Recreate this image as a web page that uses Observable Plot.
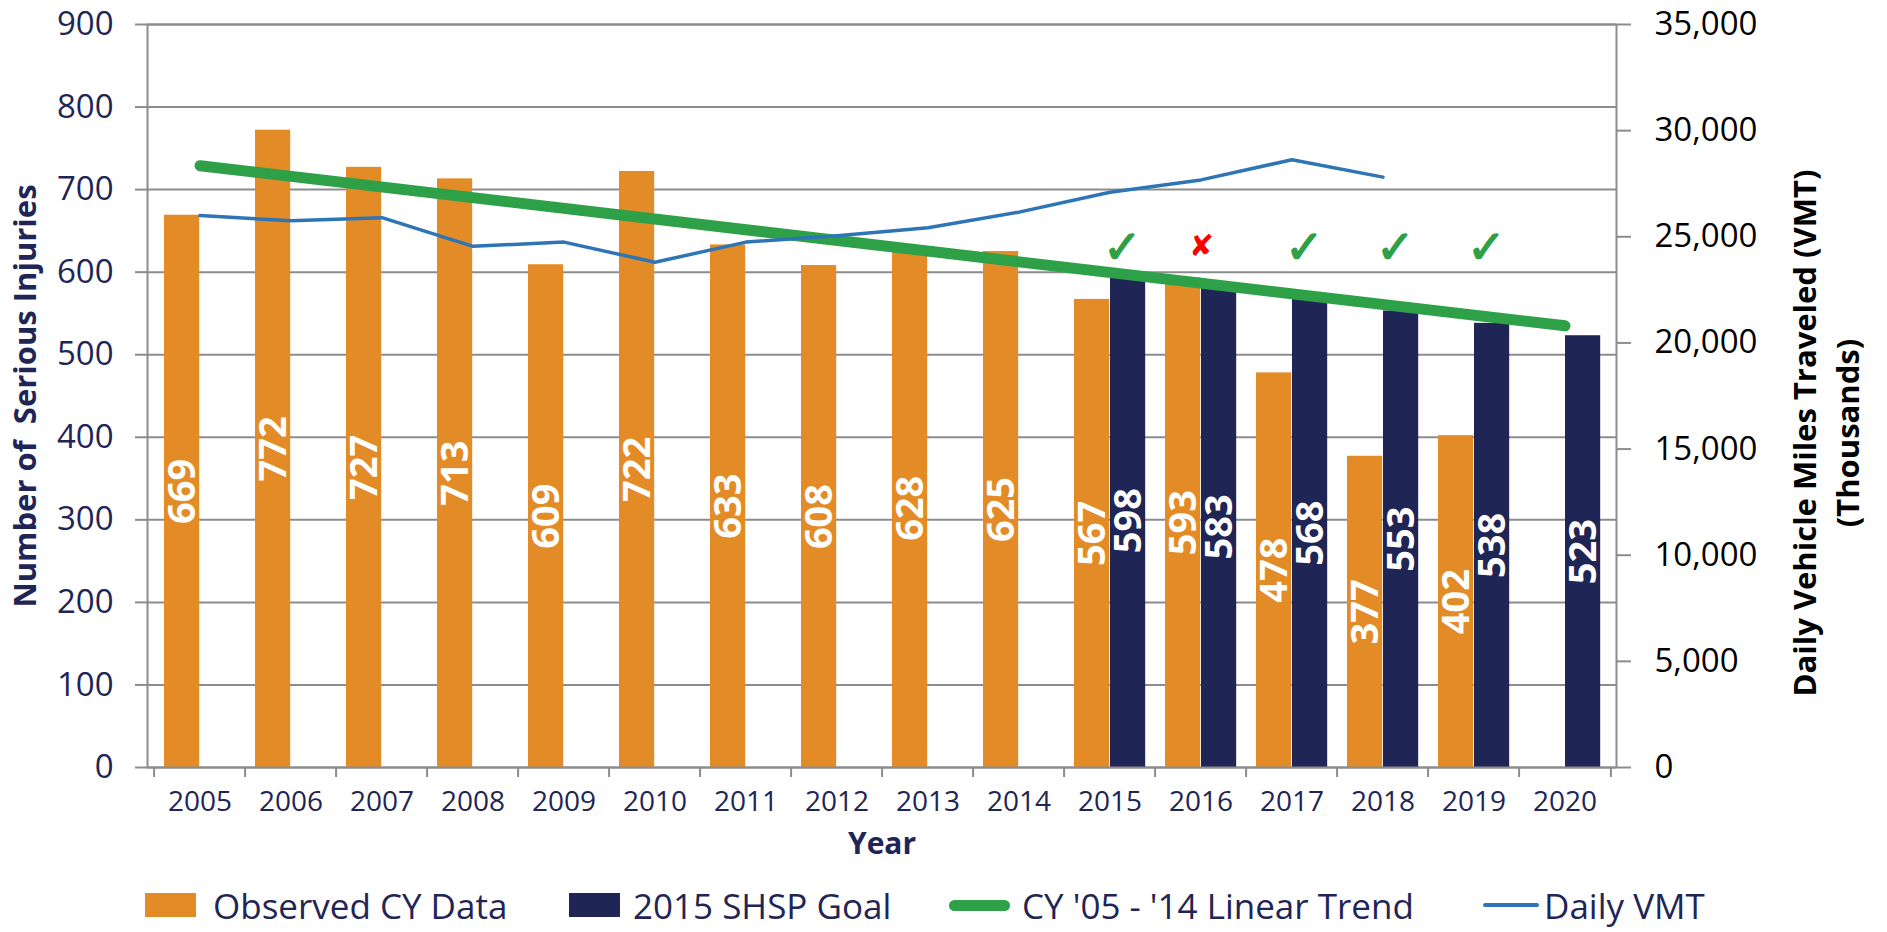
<!DOCTYPE html>
<html>
<head>
<meta charset="utf-8">
<script src="https://cdn.jsdelivr.net/npm/d3@7"></script>
<script src="https://cdn.jsdelivr.net/npm/@observablehq/plot@0.6"></script>
<style>
  body { margin: 0; background: #fff; font-family: "Open Sans", sans-serif; overflow: hidden; }
  #chart { width: 1887px; height: 880px; }
  #legend { position: relative; width: 1887px; height: 52px; }
  .item { position: absolute; top: 0; height: 50px; display: flex; align-items: center; }
  .sw { width: 51px; height: 24px; flex: none; }
  .ln { flex: none; border-radius: 6px; }
  .lbl { font-size: 35px; color: #1f2555; white-space: nowrap; line-height: 1; }
</style>
</head>
<body>
<div id="chart"></div>
<div id="legend"></div>
<script>
// ---- data ----
const years = ["2005","2006","2007","2008","2009","2010","2011","2012","2013","2014","2015","2016","2017","2018","2019","2020"];
const observedYears = ["2005","2006","2007","2008","2009","2010","2011","2012","2013","2014","2015","2016","2017","2018","2019"];
const observed = [669, 772, 727, 713, 609, 722, 633, 608, 628, 625, 567, 593, 478, 377, 402];
const goalYears = ["2015","2016","2017","2018","2019","2020"];
const goal = [598, 583, 568, 553, 538, 523];
const trendYears = ["2005","2020"];
const trend = [729, 535];
const vmtYears = ["2005","2006","2007","2008","2009","2010","2011","2012","2013","2014","2015","2016","2017","2018"];
const vmt = [26000, 25750, 25900, 24550, 24750, 23800, 24750, 25050, 25430, 26160, 27100, 27680, 28630, 27810];
const statusYears = ["2015","2016","2017","2018","2019"];
const status = ["met","missed","met","met","met"];
const leftTicks = [0,100,200,300,400,500,600,700,800,900];
const rightTicks = [0,5000,10000,15000,20000,25000,30000,35000];
const seriesNames = ["Observed CY Data","2015 SHSP Goal","CY '05 - '14 Linear Trend","Daily VMT"];

// ---- styling ----
const ORANGE = "#e38b26", NAVY = "#1f2555", GREEN = "#2ea048", BLUE = "#2e75b6", GRAY = "#8c8c8c", NAVYTXT = "#1f2555";
const W = 1887, H = 880, ML = 147, MR = 271, MT = 24, MB = 113;
const bw = (W - ML - MR) / years.length;
const rightMax = 35000, leftMax = 900;
const toLeft = v => v * leftMax / rightMax;

const obsData = observedYears.map((y, i) => ({year: y, value: observed[i]}));
const goalData = goalYears.map((y, i) => ({year: y, value: goal[i]}));
const trendData = trendYears.map((y, i) => ({year: y, value: trend[i]}));
const vmtData = vmtYears.map((y, i) => ({year: y, value: vmt[i]}));
const statusData = statusYears.map((y, i) => ({year: y, s: status[i]}));

const chart = Plot.plot({
  width: W, height: H,
  marginLeft: ML, marginRight: MR, marginTop: MT, marginBottom: MB,
  style: {fontFamily: "'Open Sans', sans-serif", background: "#fff"},
  x: {type: "band", domain: years, padding: 0, label: null},
  y: {domain: [0, leftMax], label: null},
  marks: [
    Plot.gridY(leftTicks, {stroke: GRAY, strokeOpacity: 1, strokeWidth: 2}),
    Plot.barY(obsData, {x: "year", y: "value", fill: ORANGE, insetLeft: 10, insetRight: bw - 46}),
    Plot.barY(goalData, {x: "year", y: "value", fill: NAVY, insetLeft: 46, insetRight: bw - 82}),
    Plot.frame({stroke: GRAY, strokeWidth: 2}),
    Plot.ruleX(years, {x: d => d, dx: -bw / 2, stroke: GRAY, strokeWidth: 2, insetTop: H - MT - MB, insetBottom: -10}),
    Plot.ruleX([years[years.length - 1]], {x: d => d, dx: bw / 2, stroke: GRAY, strokeWidth: 2, insetTop: H - MT - MB, insetBottom: -10}),
    Plot.text(obsData, {x: "year", y: d => d.value / 2, text: d => String(d.value), rotate: -90, dx: -17, fill: "white", fontSize: 38, fontWeight: "bold"}),
    Plot.text(goalData, {x: "year", y: d => d.value / 2, text: d => String(d.value), rotate: -90, dx: 19, fill: "white", fontSize: 38, fontWeight: "bold"}),
    Plot.line(trendData, {x: "year", y: "value", stroke: GREEN, strokeWidth: 11, strokeLinecap: "round"}),
    Plot.line(vmtData, {x: "year", y: d => toLeft(d.value), stroke: BLUE, strokeWidth: 3.5}),
    Plot.text(statusData.filter(d => d.s === "met"), {x: "year", frameAnchor: "top", dy: 206, dx: 12, text: () => "✓", fill: GREEN, fontSize: 46, fontWeight: "bold"}),
    Plot.text(statusData.filter(d => d.s === "missed"), {x: "year", frameAnchor: "top", dy: 210, dx: 0, text: () => "✘", fill: "#ff0000", fontSize: 30}),
    Plot.axisY(leftTicks, {anchor: "left", tickSize: 12, tickPadding: 22, fontSize: 33, stroke: GRAY, strokeWidth: 2, fill: NAVYTXT, label: null}),
    Plot.axisY(rightTicks.map(toLeft), {anchor: "right", tickSize: 14, tickPadding: 24, fontSize: 33, stroke: GRAY, strokeWidth: 2, fill: "#000",
      tickFormat: d => d3.format(",")(Math.round(d * rightMax / leftMax)), label: null}),
    Plot.axisX({tickSize: 0, tickPadding: 24, fontSize: 28, fill: NAVYTXT, label: null}),
    Plot.text(["Number of  Serious Injuries"], {text: d => d, frameAnchor: "left", textAnchor: "middle", dx: -121, dy: 0, rotate: -90, fontSize: 31, fontWeight: "bold", fill: NAVYTXT}),
    Plot.text(["Daily Vehicle Miles Traveled (VMT)"], {text: d => d, frameAnchor: "right", textAnchor: "middle", dx: 190, dy: 37, rotate: -90, fontSize: 31, fontWeight: "bold", fill: "#000"}),
    Plot.text(["(Thousands)"], {text: d => d, frameAnchor: "right", textAnchor: "middle", dx: 233, dy: 37, rotate: -90, fontSize: 31, fontWeight: "bold", fill: "#000"}),
    Plot.text(["Year"], {text: d => d, frameAnchor: "bottom", dy: 86, fontSize: 30, fontWeight: "bold", fill: NAVYTXT})
  ]
});
document.getElementById("chart").appendChild(chart);

// ---- legend ----
const legend = document.getElementById("legend");
const legendItems = [
  {name: seriesNames[0], kind: "sw", color: ORANGE, left: 145, gap: 17},
  {name: seriesNames[1], kind: "sw", color: NAVY, left: 569, gap: 13},
  {name: seriesNames[2], kind: "ln", color: GREEN, left: 949, w: 61, h: 11, gap: 12},
  {name: seriesNames[3], kind: "ln", color: BLUE, left: 1483, w: 56, h: 4, gap: 5}
];
legendItems.forEach(it => {
  const d = document.createElement("div");
  d.className = "item";
  d.style.left = it.left + "px";
  const s = document.createElement("span");
  s.className = it.kind;
  s.style.background = it.color;
  s.style.marginRight = it.gap + "px";
  if (it.kind === "ln") { s.style.height = it.h + "px"; s.style.width = it.w + "px"; }
  const t = document.createElement("span");
  t.className = "lbl";
  t.textContent = it.name;
  d.appendChild(s); d.appendChild(t);
  legend.appendChild(d);
});
</script>
</body>
</html>
